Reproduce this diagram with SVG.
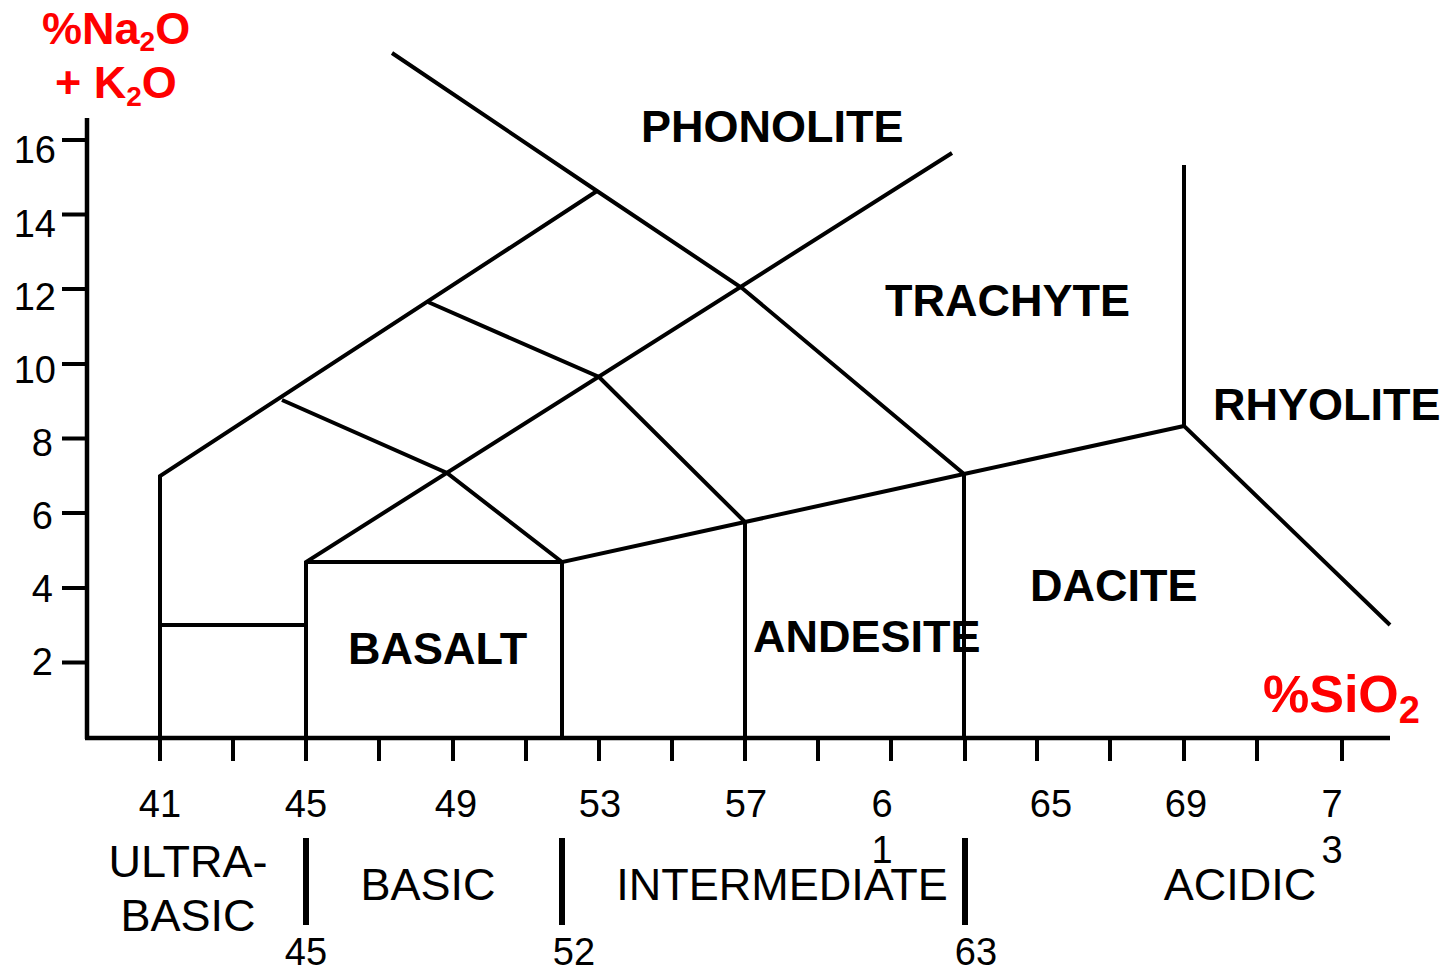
<svg xmlns="http://www.w3.org/2000/svg" width="1452" height="971" viewBox="0 0 1452 971">
<style>
.ln{fill:none;stroke:#000;stroke-width:4;stroke-linejoin:miter;stroke-linecap:butt}
.ax{fill:none;stroke:#000;stroke-width:4.5}
.bar{stroke:#000;stroke-width:6}
.num{font-family:"Liberation Sans",Arial,sans-serif;font-size:38px;fill:#000}
.cls{font-family:"Liberation Sans",Arial,sans-serif;font-size:45px;fill:#000}
.rock{font-family:"Liberation Sans",Arial,sans-serif;font-size:45px;font-weight:bold;fill:#000}
.red{font-family:"Liberation Sans",Arial,sans-serif;font-weight:bold;fill:#ff0000}
</style>
<rect width="1452" height="971" fill="#fff"/>
<g id="axes">
<path class="ax" d="M87,118 V739 M85,738 H1390"/>
<path class="ln" d="M62,140 H88 M62,214.5 H88 M62,289 H88 M62,364 H88 M62,438.5 H88 M62,513 H88 M62,588 H88 M62,662.5 H88"/>
<path class="ln" d="M160,738 V761 M233,738 V761 M306,738 V761 M379,738 V761 M453,738 V761 M526,738 V761 M599,738 V761 M672,738 V761 M745,738 V761 M818,738 V761 M891,738 V761 M965,738 V761 M1037,738 V761 M1110,738 V761 M1184,738 V761 M1257,738 V761 M1342,738 V761"/>
</g>
<g id="boundaries">
<path class="ln" d="M160,738 V476 L597,191"/>
<path class="ln" d="M392,53 L597,191 L742,288 L964,474"/>
<path class="ln" d="M306,738 V562 L952,153"/>
<path class="ln" d="M282,400 L447,473 L562,562"/>
<path class="ln" d="M428,302 L599,377 L745,522"/>
<path class="ln" d="M306,562 H562"/>
<path class="ln" d="M160,625 H306"/>
<path class="ln" d="M562,738 V562 L745,522 L964,474 L1184,426"/>
<path class="ln" d="M745,738 V522"/>
<path class="ln" d="M964,738 V474"/>
<path class="ln" d="M1184,165 V426 L1390,625"/>
</g>
<g id="separators">
<path class="bar" d="M306,838 V925 M562,838 V925 M965,838 V925"/>
</g>
<g id="y-labels" class="num" text-anchor="end">
<text x="56" y="163">16</text>
<text x="56" y="237">14</text>
<text x="56" y="310">12</text>
<text x="56" y="383">10</text>
<text x="53" y="456">8</text>
<text x="53" y="529">6</text>
<text x="53" y="602">4</text>
<text x="53" y="675">2</text>
</g>
<g id="x-labels" class="num" text-anchor="middle">
<text x="160" y="817">41</text>
<text x="306" y="817">45</text>
<text x="456" y="817">49</text>
<text x="600" y="817">53</text>
<text x="746" y="817">57</text>
<text x="882" y="817">6</text>
<text x="882" y="863">1</text>
<text x="1051" y="817">65</text>
<text x="1186" y="817">69</text>
<text x="1332" y="817">7</text>
<text x="1332" y="863">3</text>
<text x="306" y="965">45</text>
<text x="574" y="965">52</text>
<text x="976" y="965">63</text>
</g>
<g id="classes" class="cls" text-anchor="middle">
<text x="188" y="877">ULTRA-</text>
<text x="188" y="931">BASIC</text>
<text x="428" y="900">BASIC</text>
<text x="782" y="900">INTERMEDIATE</text>
<text x="1240" y="900">ACIDIC</text>
</g>
<g id="rocks" class="rock">
<text x="641" y="142">PHONOLITE</text>
<text x="885" y="316">TRACHYTE</text>
<text x="1213" y="420">RHYOLITE</text>
<text x="1030" y="601">DACITE</text>
<text x="753" y="652">ANDESITE</text>
<text x="348" y="664">BASALT</text>
</g>
<g id="axis-titles" class="red">
<text x="42" y="44" font-size="45">%Na<tspan font-size="28" dy="7">2</tspan><tspan dy="-7">O</tspan></text>
<text x="55" y="98" font-size="45">+ K<tspan font-size="28" dy="8">2</tspan><tspan dy="-8">O</tspan></text>
<text x="1263" y="712" font-size="52">%SiO<tspan font-size="38" dy="11">2</tspan></text>
</g>
</svg>
